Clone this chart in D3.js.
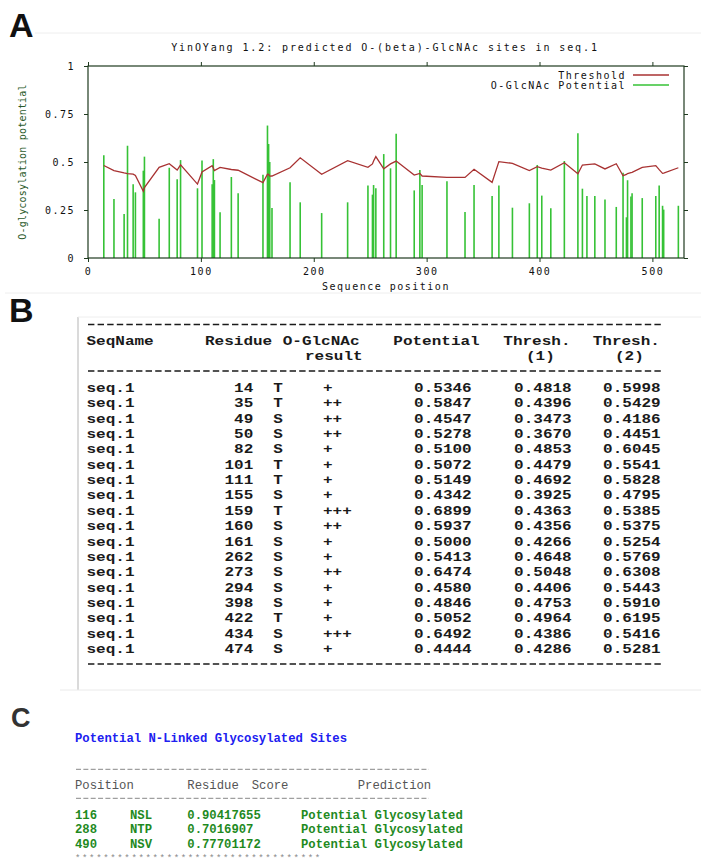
<!DOCTYPE html>
<html>
<head>
<meta charset="utf-8">
<script src="https://cdn.jsdelivr.net/npm/d3@7"></script>
<style>
  body { margin: 0; background: #fff; }
  svg { display: block; }
</style>
</head>
<body>
<script>
// ---- panel A data: O-GlcNAc potential per S/T position, threshold at that position
var positions = [14, 23, 32, 35, 40, 42, 49, 50, 63, 72, 79, 82, 97, 101, 110, 111, 112, 117, 127, 133,
  155, 159, 160, 161, 163, 179, 188, 207, 230, 248, 252, 253, 255, 262, 268, 273, 289, 294, 296, 318,
  334, 342, 358, 364, 376, 391, 398, 402, 410, 422, 434, 438, 442, 449, 458, 468, 474, 477, 478, 481,
  482, 491, 503, 506, 509, 510, 523];
var potential = [0.5346, 0.307, 0.229, 0.5847, 0.384, 0.342, 0.4547, 0.5278, 0.205, 0.470, 0.410, 0.5100, 0.363, 0.5072, 0.384, 0.5149, 0.406, 0.238, 0.422, 0.337,
  0.4342, 0.6899, 0.5937, 0.5000, 0.260, 0.394, 0.290, 0.234, 0.290, 0.377, 0.330, 0.380, 0.363, 0.5413, 0.467, 0.6474, 0.352, 0.4580, 0.380, 0.400,
  0.240, 0.380, 0.323, 0.377, 0.262, 0.285, 0.4846, 0.325, 0.259, 0.5052, 0.6492, 0.361, 0.323, 0.323, 0.305, 0.266, 0.4444, 0.212, 0.405, 0.320,
  0.337, 0.312, 0.323, 0.377, 0.272, 0.252, 0.272];
var threshold = [0.4818, 0.455, 0.443, 0.4396, 0.437, 0.430, 0.3473, 0.3670, 0.472, 0.491, 0.458, 0.4853, 0.385, 0.4479, 0.481, 0.4692, 0.455, 0.472, 0.461, 0.457,
  0.3925, 0.4363, 0.4356, 0.4266, 0.427, 0.470, 0.522, 0.436, 0.507, 0.472, 0.490, 0.505, 0.528, 0.4648, 0.490, 0.5048, 0.432, 0.4406, 0.427, 0.420,
  0.420, 0.462, 0.394, 0.502, 0.493, 0.455, 0.4753, 0.468, 0.458, 0.4964, 0.4386, 0.484, 0.486, 0.490, 0.464, 0.491, 0.4286, 0.435, 0.440, 0.445,
  0.446, 0.472, 0.481, 0.460, 0.441, 0.442, 0.470];
var xTicks = [0, 100, 200, 300, 400, 500];
var yTicks = [0, 0.25, 0.5, 0.75, 1];
var yTickLabels = ["0", "0.25", "0.5", "0.75", "1"];

// ---- panel B data: YinOYang table
var residueNo = [14, 35, 49, 50, 82, 101, 111, 155, 159, 160, 161, 262, 273, 294, 398, 422, 434, 474];
var residueAA = ["T", "T", "S", "S", "S", "T", "T", "S", "T", "S", "S", "S", "S", "S", "S", "T", "S", "S"];
var resultSign = ["+", "++", "++", "++", "+", "+", "+", "+", "+++", "++", "+", "+", "++", "+", "+", "+", "+++", "+"];
var potentialTbl = [0.5346, 0.5847, 0.4547, 0.5278, 0.5100, 0.5072, 0.5149, 0.4342, 0.6899, 0.5937, 0.5000, 0.5413, 0.6474, 0.4580, 0.4846, 0.5052, 0.6492, 0.4444];
var thresh1 = [0.4818, 0.4396, 0.3473, 0.3670, 0.4853, 0.4479, 0.4692, 0.3925, 0.4363, 0.4356, 0.4266, 0.4648, 0.5048, 0.4406, 0.4753, 0.4964, 0.4386, 0.4286];
var thresh2 = [0.5998, 0.5429, 0.4186, 0.4451, 0.6045, 0.5541, 0.5828, 0.4795, 0.5385, 0.5375, 0.5254, 0.5769, 0.6308, 0.5443, 0.5910, 0.6195, 0.5416, 0.5281];

// ---- panel C data: N-linked sites
var nPos = ["116", "288", "490"];
var nSeq = ["NSL", "NTP", "NSV"];
var nScore = ["0.90417655", "0.7016907", "0.77701172"];
var nPred = ["Potential Glycosylated", "Potential Glycosylated", "Potential Glycosylated"];

var W = 701, H = 863;
var svg = d3.select("body").append("svg").attr("width", W).attr("height", H);
svg.append("rect").attr("width", W).attr("height", H).attr("fill", "#fff");

var mono = "'Liberation Mono', 'DejaVu Sans Mono', monospace";
var gfont = "'DejaVu Sans Mono', monospace";

// faint separators
svg.append("line").attr("x1", 35).attr("x2", W).attr("y1", 33).attr("y2", 33).attr("stroke", "#eeeeee");
svg.append("line").attr("x1", 5).attr("x2", W).attr("y1", 293).attr("y2", 293).attr("stroke", "#eeeeee");

// panel letters
function letter(t, x, y, size, col) {
    svg.append("text").text(t).attr("x", x).attr("y", y)
        .attr("font-family", "'Liberation Sans', Arial, sans-serif")
        .attr("font-weight", "bold").attr("font-size", size).attr("fill", col);
}
letter("A", 9, 37, 34, "#111");
letter("B", 9, 322, 34, "#111");
letter("C", 11, 727, 27, "#333");

// ================= panel A =================
var x = d3.scaleLinear().domain([0, 528]).range([88, 684]);
var y = d3.scaleLinear().domain([0, 1]).range([258, 66]);

var chart = svg.append("g").attr("font-family", gfont);

function styleAxis(g) {
    g.select(".domain").remove();
    g.selectAll("line").attr("stroke", "#1f3a1f");
    g.selectAll("text").attr("font-family", gfont).attr("font-size", 10)
        .attr("letter-spacing", "1.5px").attr("fill", "#111");
}

chart.append("g").attr("transform", "translate(0,258)")
    .call(d3.axisBottom(x).tickValues(xTicks).tickSize(4).tickPadding(6))
    .call(styleAxis);
chart.append("g").attr("transform", "translate(0,66)")
    .call(d3.axisTop(x).tickValues(xTicks).tickSize(4).tickFormat(""))
    .call(styleAxis);
chart.append("g").attr("transform", "translate(88,0)")
    .call(d3.axisLeft(y).tickValues(yTicks).tickSize(4).tickPadding(9)
        .tickFormat(function (d, i) { return yTickLabels[i]; }))
    .call(styleAxis);
chart.append("g").attr("transform", "translate(684,0)")
    .call(d3.axisRight(y).tickValues(yTicks).tickSize(4).tickFormat(""))
    .call(styleAxis);

// bars
chart.selectAll(".bar")
    .data(positions)
    .enter()
    .append("line")
    .attr("class", "bar")
    .attr("x1", function (d) { return x(d); })
    .attr("x2", function (d) { return x(d); })
    .attr("y1", y(0))
    .attr("y2", function (d, i) { return y(potential[i]); })
    .attr("stroke", "#36c236")
    .attr("stroke-width", 1.6);

// threshold line
var line = d3.line()
    .x(function (d) { return x(d); })
    .y(function (d, i) { return y(threshold[i]); });
chart.append("path").datum(positions)
    .attr("d", line)
    .attr("fill", "none")
    .attr("stroke", "#a83232")
    .attr("stroke-width", 1.3);

// frame
chart.append("rect")
    .attr("x", x(0)).attr("y", y(1))
    .attr("width", x(528) - x(0)).attr("height", y(0) - y(1))
    .attr("fill", "none").attr("stroke", "#1f3a1f").attr("stroke-width", 1.2);

// title / labels
chart.append("text").text("YinOYang 1.2: predicted O-(beta)-GlcNAc sites in seq.1")
    .attr("x", 385).attr("y", 50.5).attr("text-anchor", "middle")
    .attr("font-size", 10).attr("letter-spacing", "1.9px").attr("fill", "#111");
chart.append("text").text("Sequence position")
    .attr("x", 386).attr("y", 290).attr("text-anchor", "middle")
    .attr("font-size", 10).attr("letter-spacing", "1.5px").attr("fill", "#111");
chart.append("text").text("O-glycosylation potential")
    .attr("transform", "translate(26,162) rotate(-90)")
    .attr("text-anchor", "middle")
    .attr("font-size", 10).attr("letter-spacing", "0.2px").attr("fill", "#2a5a2a");

// legend
var legendItems = [{ name: "Threshold", col: "#a83232" }, { name: "O-GlcNAc Potential", col: "#36c236" }];
legendItems.forEach(function (it, i) {
    var ly = 75 + i * 10;
    chart.append("text").text(it.name)
        .attr("x", 626).attr("y", ly + 3.5).attr("text-anchor", "end")
        .attr("font-size", 10).attr("letter-spacing", "1.5px").attr("fill", "#111");
    chart.append("line").attr("x1", 633).attr("x2", 669).attr("y1", ly).attr("y2", ly)
        .attr("stroke", it.col).attr("stroke-width", 1.3);
});

// ================= panel B =================
// courier-like text, widened to the reference's 9.6px character pitch
var tb = svg.append("g").attr("font-family", mono).attr("font-weight", "bold")
    .attr("font-size", 13.5).attr("fill", "#1a1a1a");

function btext(t, xx, yy, anchor) {
    return tb.append("text").text(t)
        .attr("transform", "translate(" + xx + "," + yy + ") scale(1.185,1)")
        .attr("text-anchor", anchor || "start");
}

svg.append("line").attr("x1", 78).attr("x2", 78).attr("y1", 317).attr("y2", 690).attr("stroke", "#b5b5b5");
svg.append("line").attr("x1", 78).attr("x2", W).attr("y1", 317).attr("y2", 317).attr("stroke", "#eeeeee");
svg.append("line").attr("x1", 60).attr("x2", W).attr("y1", 690).attr("y2", 690).attr("stroke", "#eaeaea");

// dashed rules of the text table
[324.5, 371, 664].forEach(function (yy) {
    svg.append("line").attr("x1", 88).attr("x2", 662).attr("y1", yy).attr("y2", yy)
        .attr("stroke", "#1a1a1a").attr("stroke-width", 1.6).attr("stroke-dasharray", "6.4,3.2");
});

var headB = [
    { t: "SeqName", x: 86.5, y: 345 }, { t: "Residue", x: 205, y: 345 },
    { t: "O-GlcNAc", x: 282.7, y: 345 }, { t: "result", x: 305, y: 360 },
    { t: "Potential", x: 393.3, y: 345 }, { t: "Thresh.", x: 503.3, y: 345 },
    { t: "(1)", x: 526, y: 360 }, { t: "Thresh.", x: 592.7, y: 345 }, { t: "(2)", x: 615, y: 360 }
];
headB.forEach(function (d) { btext(d.t, d.x, d.y); });

var f4 = d3.format(".4f");
var rowY = d3.scaleLinear().domain([0, 1]).range([392, 392 + 15.35]);

residueNo.forEach(function (r, i) {
    var yy = rowY(i);
    btext("seq.1", 86.5, yy);
    btext(String(r), 253.3, yy, "end");
    btext(residueAA[i], 278, yy, "middle");
    btext(resultSign[i], 323, yy);
    btext(f4(potentialTbl[i]), 471.7, yy, "end");
    btext(f4(thresh1[i]), 571.7, yy, "end");
    btext(f4(thresh2[i]), 660.7, yy, "end");
});

// ================= panel C =================
var tc = svg.append("g").attr("font-family", mono).attr("font-size", 12.25);

function ctext(t, xx, yy, col, bold) {
    return tc.append("text").text(t).attr("x", xx).attr("y", yy)
        .attr("fill", col).attr("font-weight", bold ? "bold" : "normal");
}

ctext("Potential N-Linked Glycosylated Sites", 75, 742, "#2020f0", true);
[769.3, 798.3].forEach(function (yy) {
    svg.append("line").attr("x1", 76).attr("x2", 429).attr("y1", yy).attr("y2", yy)
        .attr("stroke", "#888").attr("stroke-width", 1).attr("stroke-dasharray", "5,2.35");
});
ctext("Position", 75, 789, "#555", false);
ctext("Residue", 187.3, 789, "#555", false);
ctext("Score", 251.7, 789, "#555", false);
ctext("Prediction", 357.7, 789, "#555", false);

nPos.forEach(function (p, i) {
    var yy = 818.6 + i * 14.8;
    ctext(p, 75, yy, "#1f8a1f", true);
    ctext(nSeq[i], 130, yy, "#1f8a1f", true);
    ctext(nScore[i], 187.3, yy, "#1f8a1f", true);
    ctext(nPred[i], 301, yy, "#1f8a1f", true);
});
ctext(d3.range(35).map(function () { return "*"; }).join(""), 75, 860.5, "#888", false)
    .attr("font-size", 9).attr("letter-spacing", "1.65px");
</script>
</body>
</html>
